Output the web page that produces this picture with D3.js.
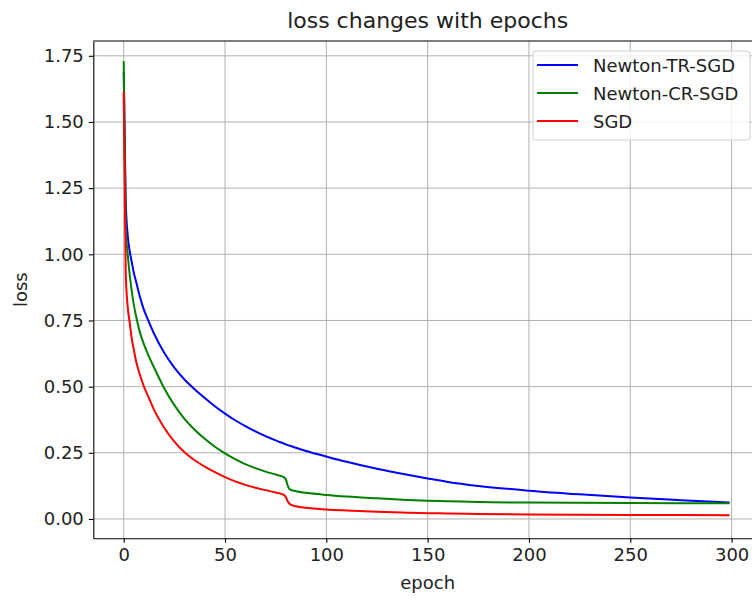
<!DOCTYPE html>
<html>
<head>
<meta charset="utf-8">
<script src="https://cdn.jsdelivr.net/npm/d3@7"></script>
<style>
  body { margin: 0; background: #fff; }
  svg { display: block; font-family: "DejaVu Sans", sans-serif; }
</style>
</head>
<body>
<div id="chart"></div>
<script>
const epochs = [0, 1, 2, 3, 4, 5, 6, 8, 10, 12, 15, 20, 25, 30, 35, 40, 45, 50, 55, 60, 65, 70, 75, 79, 80, 81, 82, 85, 90, 100, 110, 125, 140, 150, 160, 175, 200, 225, 250, 275, 299];

const lossTR = [1.69, 1.20, 1.07, 1.01, 0.97, 0.93, 0.90, 0.84, 0.79, 0.752, 0.70, 0.628, 0.572, 0.527, 0.49, 0.457, 0.426, 0.398, 0.373, 0.351, 0.331, 0.313, 0.297, 0.285, 0.282, 0.279, 0.277, 0.269, 0.257, 0.236, 0.216, 0.19, 0.167, 0.153, 0.14, 0.125, 0.107, 0.093, 0.081, 0.071, 0.062];
const lossCR = [1.73, 1.10, 1.00, 0.92, 0.86, 0.81, 0.77, 0.705, 0.66, 0.622, 0.572, 0.494, 0.43, 0.378, 0.337, 0.303, 0.273, 0.248, 0.226, 0.207, 0.192, 0.179, 0.168, 0.158, 0.15, 0.125, 0.112, 0.105, 0.099, 0.091, 0.085, 0.078, 0.072, 0.069, 0.067, 0.064, 0.062, 0.061, 0.06, 0.059, 0.059];
const lossSGD = [1.615, 0.93, 0.80, 0.74, 0.68, 0.64, 0.60, 0.545, 0.50, 0.465, 0.412, 0.345, 0.292, 0.252, 0.222, 0.198, 0.177, 0.158, 0.142, 0.129, 0.118, 0.109, 0.1, 0.091, 0.083, 0.066, 0.056, 0.048, 0.042, 0.036, 0.032, 0.027, 0.024, 0.022, 0.021, 0.019, 0.017, 0.016, 0.015, 0.015, 0.014];

const seriesNames = ['Newton-TR-SGD', 'Newton-CR-SGD', 'SGD'];
const seriesColors = ['#0000ff', '#008000', '#ff0000'];
const xTicks = [0, 50, 100, 150, 200, 250, 300];
const yTicks = [0, 0.25, 0.5, 0.75, 1.0, 1.25, 1.5, 1.75];

const W = 752, H = 599;
const mLeft = 93.3, mRight = 762, mTop = 41, mBottom = 538.3;

const svg = d3.select('#chart').append('svg')
	.attr('width', W)
	.attr('height', H);

const x = d3.scaleLinear().domain([-15, 315]).range([mLeft, mRight]);
const y = d3.scaleLinear().domain([-0.073, 1.806]).range([mBottom, mTop]);

// grid
svg.append('g').selectAll('line')
	.data(xTicks).enter().append('line')
	.attr('x1', d => x(d)).attr('x2', d => x(d))
	.attr('y1', mTop).attr('y2', mBottom)
	.attr('stroke', '#b0b0b0').attr('stroke-width', 1);
svg.append('g').selectAll('line')
	.data(yTicks).enter().append('line')
	.attr('x1', mLeft).attr('x2', mRight)
	.attr('y1', d => y(d)).attr('y2', d => y(d))
	.attr('stroke', '#b0b0b0').attr('stroke-width', 1);

// lines
const allSeries = [lossTR, lossCR, lossSGD];
const line = d3.line()
	.x((d, i) => x(epochs[i]))
	.y(d => y(d))
	.curve(d3.curveMonotoneX);
svg.append('g').selectAll('path')
	.data(allSeries).enter().append('path')
	.attr('d', d => line(d))
	.attr('fill', 'none')
	.attr('stroke', (d, i) => seriesColors[i])
	.attr('stroke-width', 2);

// axes
const xAxis = svg.append('g')
	.attr('transform', `translate(0,${mBottom})`)
	.call(d3.axisBottom(x).tickValues(xTicks).tickSize(4.5).tickPadding(5).tickSizeOuter(0));
const yAxis = svg.append('g')
	.attr('transform', `translate(${mLeft},0)`)
	.call(d3.axisLeft(y).tickValues(yTicks).tickFormat(d3.format('.2f')).tickSize(4.5).tickPadding(5).tickSizeOuter(0));
[xAxis, yAxis].forEach(a => {
	a.selectAll('text').style('font-size', '18px').style('font-family', 'DejaVu Sans').attr('fill', '#222');
	a.selectAll('line').attr('stroke', '#000').attr('stroke-width', 1.1);
	a.select('.domain').attr('stroke', '#000').attr('stroke-width', 1.1);
});
// top spine
svg.append('line')
	.attr('x1', mLeft).attr('x2', mRight)
	.attr('y1', mTop).attr('y2', mTop)
	.attr('stroke', '#000').attr('stroke-width', 1.1);

// titles
svg.append('text')
	.attr('x', (mLeft + mRight) / 2).attr('y', 28)
	.attr('text-anchor', 'middle')
	.style('font-size', '22px')
	.attr('fill', '#222')
	.text('loss changes with epochs');
svg.append('text')
	.attr('x', (mLeft + mRight) / 2).attr('y', 589)
	.attr('text-anchor', 'middle')
	.style('font-size', '18px')
	.attr('fill', '#222')
	.text('epoch');
svg.append('text')
	.attr('transform', `translate(27,${(mTop + mBottom) / 2}) rotate(-90)`)
	.attr('text-anchor', 'middle')
	.style('font-size', '18px')
	.attr('fill', '#222')
	.text('loss');

// legend
const lg = svg.append('g').attr('transform', 'translate(533,51)');
lg.append('rect')
	.attr('width', 217).attr('height', 89)
	.attr('rx', 3)
	.attr('fill', '#fff').attr('fill-opacity', 0.8)
	.attr('stroke', '#d0d0d0');
const item = lg.selectAll('.legend')
	.data(seriesNames).enter().append('g')
	.attr('class', 'legend')
	.attr('transform', (d, i) => `translate(0,${14 + i * 28})`);
item.append('line')
	.attr('x1', 4).attr('x2', 45)
	.attr('stroke', (d, i) => seriesColors[i])
	.attr('stroke-width', 2);
item.append('text')
	.attr('x', 60).attr('y', 6.5)
	.style('font-size', '18px')
	.attr('fill', '#222')
	.text(d => d);
</script>
</body>
</html>
